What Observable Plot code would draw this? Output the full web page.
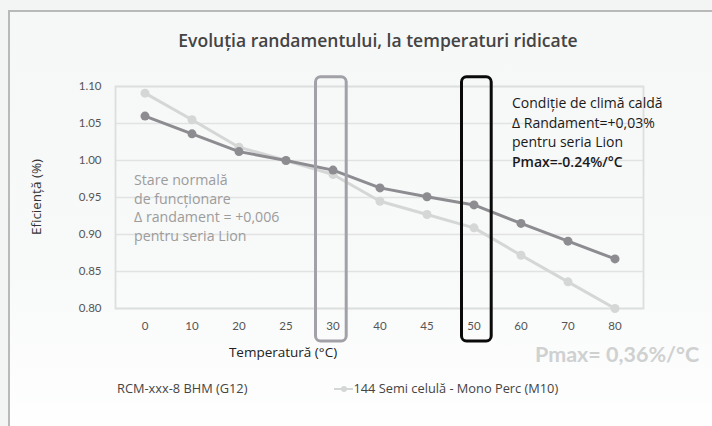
<!DOCTYPE html>
<html>
<head>
<meta charset="utf-8">
<script src="https://cdn.jsdelivr.net/npm/d3@7"></script>
<script src="https://cdn.jsdelivr.net/npm/@observablehq/plot@0.6"></script>
<style>
  html, body { margin: 0; padding: 0; }
  body { width: 712px; height: 426px; background: #f3f4f4; position: relative; overflow: hidden; font-family: "Open Sans", Lato, sans-serif; }
  #panel { position: absolute; left: 8px; top: 10px; width: 720px; height: 430px; border-left: 2px solid #b9b9b9; border-top: 2px solid #b9b9b9; background: linear-gradient(#f6f7f7, #f8f9f9 60%, #ffffff); }
  #chart { position: absolute; left: 0; top: 0; }
  .t { position: absolute; white-space: nowrap; }
  #title { left: 0; width: 756px; top: 28px; text-align: center; font-size: 17.5px; font-weight: 600; color: #444; }
  #ylab { left: 36px; top: 197px; transform: translate(-50%, -50%) rotate(-90deg); font-size: 13.5px; color: #333; }
  #xlab { left: 283px; top: 343px; transform: translateX(-50%); font-size: 13.5px; color: #222; }
  #pmax { left: 535px; top: 341px; font-family: Lato, sans-serif; font-size: 21.5px; font-weight: 700; color: #cfd1d1; }
  #noteL { left: 134px; top: 171px; font-size: 14.2px; line-height: 18.7px; color: #9c9c9c; }
  #noteR { left: 512px; top: 93px; font-size: 14px; line-height: 19.5px; color: #1a1a1a; }
  #noteR b { font-weight: 600; }
  #legend { left: 117px; top: 379px; font-size: 12.8px; color: #444; }
  .sw { display: inline-block; position: relative; width: 19px; height: 10px; vertical-align: middle; margin-left: 87px; top: -1px; }
  .sw::before { content: ""; position: absolute; left: 0; right: 0; top: 4px; height: 2.5px; background: #d5d7d7; }
  .sw::after { content: ""; position: absolute; left: 7px; top: 2.5px; width: 6px; height: 6px; border-radius: 50%; background: #d5d7d7; }
</style>
</head>
<body>
<div id="panel"></div>
<div id="chart"></div>
<div class="t" id="title">Evoluția randamentului, la temperaturi ridicate</div>
<div class="t" id="ylab">Eficiență (%)</div>
<div class="t" id="xlab">Temperatură (°C)</div>
<div class="t" id="pmax">Pmax= 0,36%/°C</div>
<div class="t" id="noteL">Stare normală<br>de funcționare<br>Δ randament = +0,006<br>pentru seria Lion</div>
<div class="t" id="noteR">Condiție de climă caldă<br>Δ Randament=+0,03%<br>pentru seria Lion<br><b>Pmax=-0.24%/°C</b></div>
<div class="t" id="legend"><span id="leg1"></span><span class="sw"></span><span id="leg2"></span></div>
<script>
// ---- data ----
const temperatures = ["0", "10", "20", "25", "30", "40", "45", "50", "60", "70", "80"];
const seriesG12 = [1.060, 1.036, 1.012, 1.000, 0.987, 0.963, 0.951, 0.940, 0.915, 0.891, 0.867];
const seriesM10 = [1.091, 1.055, 1.018, 1.000, 0.981, 0.945, 0.927, 0.909, 0.872, 0.836, 0.800];
const seriesNames = ["RCM-xxx-8 BHM (G12)", "144 Semi celulă - Mono Perc (M10)"];
const yTicks = [0.80, 0.85, 0.90, 0.95, 1.00, 1.05, 1.10];
const normalTemp = ["30"];
const hotTemp = ["50"];

document.getElementById("leg1").textContent = seriesNames[0];
document.getElementById("leg2").textContent = seriesNames[1];

const rows = temperatures.map((t, i) => ({t, v: seriesG12[i], s: seriesNames[0]}));
const rowsM = temperatures.map((t, i) => ({t, v: seriesM10[i], s: seriesNames[1]}));

const darkC = "#8d8d91", lightC = "#d5d7d7";
const boxY = {y1: 0.7555, y2: 1.1125};

const plot = Plot.plot({
  width: 712,
  height: 360,
  marginTop: 86,
  marginBottom: 52,
  marginLeft: 115,
  marginRight: 69,
  style: {background: "transparent", fontFamily: "Lato, sans-serif", fontSize: "11.5px", color: "#555"},
  x: {type: "band", domain: temperatures, paddingInner: 0, paddingOuter: 0.08, label: null, tickSize: 0, tickPadding: 13},
  y: {domain: [0.8, 1.1], ticks: yTicks, tickFormat: d3.format(".2f"), label: null, tickSize: 0, tickPadding: 14},
  marks: [
    Plot.gridY(yTicks, {stroke: "#e1e3e3", strokeOpacity: 1, strokeWidth: 1.5}),
    Plot.frame({stroke: "#dcdfdf", strokeWidth: 1.8}),
    Plot.line(rowsM, {x: "t", y: "v", stroke: lightC, strokeWidth: 3}),
    Plot.dot(rowsM, {x: "t", y: "v", fill: lightC, r: 4.5}),
    Plot.line(rows, {x: "t", y: "v", stroke: darkC, strokeWidth: 3}),
    Plot.dot(rows, {x: "t", y: "v", fill: darkC, r: 4.5}),
    Plot.barY(normalTemp, {x: (d) => d, ...boxY, fill: "none", stroke: "#a1a1a7", strokeWidth: 3, rx: 5, insetLeft: 6.5, insetRight: 9.8}),
    Plot.barY(hotTemp, {x: (d) => d, ...boxY, fill: "none", stroke: "#0a0a0a", strokeWidth: 3, rx: 5, insetLeft: 11.5, insetRight: 5.8})
  ]
});
document.getElementById("chart").appendChild(plot);
</script>
</body>
</html>
